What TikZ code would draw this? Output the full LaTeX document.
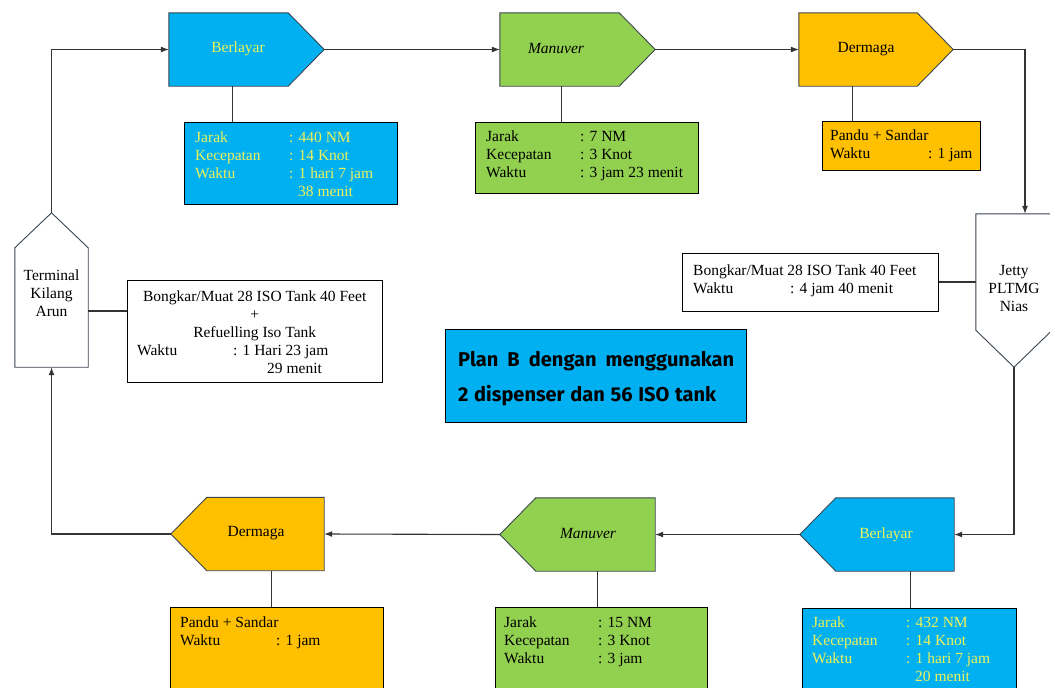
\documentclass[tikz,border=0pt]{standalone}
\usepackage{fontspec}
\usepackage{graphicx}
\setmainfont{Liberation Serif}
\newfontfamily\planfont{Fira Sans}
\usetikzlibrary{arrows.meta,calc}
\definecolor{cblue}{HTML}{00B0F0}
\definecolor{cgreen}{HTML}{92D050}
\definecolor{corange}{HTML}{FFC000}
\definecolor{cyell}{HTML}{EEF25A}
\definecolor{shpline}{HTML}{3A4550}
\definecolor{lnc}{HTML}{333333}
\newcommand\infoline[3]{\makebox[#1][l]{#2}: #3}
\begin{document}
\begin{tikzpicture}[x=1pt,y=-1pt,
  every node/.style={font=\fontsize{15.5}{18}\selectfont},
  shapebox/.style={draw=none, fill=none, inner sep=0pt, minimum height=73pt, minimum width=155pt},
  shp/.style={draw=shpline, line width=0.9pt, line join=miter},
  lbl/.style={inner sep=0pt},
  infobox/.style={draw=black, line width=1pt, inner sep=0pt},
  infotext/.style={anchor=base west, align=left, inner sep=0pt},
  conn/.style={draw=lnc, line width=1.1pt},
  arr/.style={conn, -{Latex[length=8pt,width=6pt]}}]
\clip (0,0) rectangle (1050,688);
\fill[white] (0,0) rectangle (1050,688);

% ---------- top row ----------
\node[shapebox] (t1) at (246.5,49.5) {};
\filldraw[shp, fill=cblue] (t1.north west) -- ([xshift=-36pt]t1.north east) -- (t1.east) -- ([xshift=-36pt]t1.south east) -- (t1.south west) -- cycle;
\node[lbl, text=cyell] (t1l) at (238,49) {Berlayar};

\node[shapebox] (t2) at (577.5,49.5) {};
\filldraw[shp, fill=cgreen] (t2.north west) -- ([xshift=-36pt]t2.north east) -- (t2.east) -- ([xshift=-36pt]t2.south east) -- (t2.south west) -- cycle;
\node[lbl] (t2l) at (556,49) {\itshape Manuver};

\node[shapebox, minimum width=154pt] (t3) at (876,49.5) {};
\filldraw[shp, fill=corange] (t3.north west) -- ([xshift=-36pt]t3.north east) -- (t3.east) -- ([xshift=-36pt]t3.south east) -- (t3.south west) -- cycle;
\node[lbl] (t3l) at (866,49) {Dermaga};

% ---------- bottom row ----------
\node[shapebox, minimum width=154pt] (u1) at (877,534.5) {};
\filldraw[shp, fill=cblue] (u1.north east) -- ([xshift=36pt]u1.north west) -- (u1.west) -- ([xshift=36pt]u1.south west) -- (u1.south east) -- cycle;
\node[lbl, text=cyell] (u1l) at (886,535) {Berlayar};

\node[shapebox] (u2) at (577.5,534.5) {};
\filldraw[shp, fill=cgreen] (u2.north east) -- ([xshift=36pt]u2.north west) -- (u2.west) -- ([xshift=36pt]u2.south west) -- (u2.south east) -- cycle;
\node[lbl] (u2l) at (588,534) {\itshape Manuver};

\node[shapebox, minimum width=153pt] (u3) at (247.5,534) {};
\filldraw[shp, fill=corange] (u3.north east) -- ([xshift=36pt]u3.north west) -- (u3.west) -- ([xshift=36pt]u3.south west) -- (u3.south east) -- cycle;
\node[lbl] (u3l) at (256,533) {Dermaga};

% ---------- Jetty & Terminal ----------
\node[shapebox, minimum width=76pt, minimum height=153pt] (jt) at (1014,290.5) {};
\filldraw[shp, fill=white] (jt.north west) -- (jt.north east) -- ([yshift=37pt]jt.south east) -- (jt.south) -- ([yshift=37pt]jt.south west) -- cycle;
\node[lbl, align=center] (jtl) at (1014,288) {Jetty\\PLTMG\\Nias};

\node[shapebox, minimum width=73pt, minimum height=154pt] (tm) at (51.5,290) {};
\filldraw[shp, fill=white] (tm.south west) -- ([yshift=-35pt]tm.north west) -- (tm.north) -- ([yshift=-35pt]tm.north east) -- (tm.south east) -- cycle;
\node[lbl, align=center] (tml) at (51.5,293) {Terminal\\Kilang\\Arun};

% ---------- info boxes (text anchored at baseline of last line) ----------
\node[infobox, fill=cblue, minimum width=213pt, minimum height=82pt] (i1) at (290.5,163) {};
\node[infotext, text=cyell] (i1t) at (195,196) {\infoline{94pt}{Jarak}{440 NM}\\ \infoline{94pt}{Kecepatan}{14 Knot}\\ \infoline{94pt}{Waktu}{1 hari 7 jam}\\ \hspace*{103pt}38 menit};

\node[infobox, fill=cgreen, minimum width=223pt, minimum height=71pt] (i2) at (586.5,157.5) {};
\node[infotext] (i2t) at (486,177) {\infoline{94pt}{Jarak}{7 NM}\\ \infoline{94pt}{Kecepatan}{3 Knot}\\ \infoline{94pt}{Waktu}{3 jam 23 menit}};

\node[infobox, fill=corange, minimum width=158pt, minimum height=49pt] (i3) at (901,145.5) {};
\node[infotext] (i3t) at (830,158) {Pandu + Sandar\\ \infoline{98pt}{Waktu}{1 jam}};

\node[infobox, fill=white, minimum width=256pt, minimum height=58pt] (j) at (810,282) {};
\node[infotext] (jtt) at (693,293) {Bongkar/Muat 28 ISO Tank 40 Feet\\ \infoline{97pt}{Waktu}{4 jam 40 menit}};

\node[infobox, fill=white, minimum width=255pt, minimum height=102pt] (k) at (254.5,331) {};
\node[infotext] (kt) at (137,373) {\makebox[235pt][c]{Bongkar/Muat 28 ISO Tank 40 Feet}\\ \makebox[235pt][c]{+}\\ \makebox[235pt][c]{Refuelling Iso Tank}\\ \infoline{96pt}{Waktu}{1 Hari 23 jam}\\ \hspace*{130pt}29 menit};

\node[infobox, fill=corange, minimum width=213pt, minimum height=96pt] (v3) at (276.5,655) {};
\node[infotext] (v3t) at (180,645) {Pandu + Sandar\\ \infoline{96pt}{Waktu}{1 jam}};

\node[infobox, fill=cgreen, minimum width=212pt, minimum height=96pt] (v2) at (601,655) {};
\node[infotext] (v2t) at (504,663) {\infoline{94pt}{Jarak}{15 NM}\\ \infoline{94pt}{Kecepatan}{3 Knot}\\ \infoline{94pt}{Waktu}{3 jam}};

\node[infobox, fill=cblue, minimum width=214pt, minimum height=96pt] (v1) at (909,656) {};
\node[infotext, text=cyell] (v1t) at (812,681) {\infoline{94pt}{Jarak}{432 NM}\\ \infoline{94pt}{Kecepatan}{14 Knot}\\ \infoline{94pt}{Waktu}{1 hari 7 jam}\\ \hspace*{103pt}20 menit};

% ---------- center box ----------
\node[infobox, fill=cblue, minimum width=301pt, minimum height=93pt] (c) at (595.5,375.5) {};
\node[infotext, font=\planfont\bfseries\fontsize{20}{35}\selectfont] (ct) at (458,401) {\makebox[276pt][s]{Plan B dengan menggunakan}\\ \makebox[258pt][s]{2 dispenser dan 56 ISO tank}};

% ---------- connectors ----------
\draw[arr] (tm.north) |- (t1.west);
\draw[arr] (t1.east) -- (t2.west);
\draw[arr] (t2.east) -- (t3.west);
\draw[arr] (t3.east) -| ([xshift=11pt]jt.north);
\draw[arr] (jt.south) |- (u1.east);
\draw[arr] (u1.west) -- (u2.east);
\draw[arr] (u2.west) -- (u3.east);
\draw[arr] (u3.west) -| (tm.south);

\draw[conn] ([xshift=64pt]t1.south west) -- ([xshift=64pt]t1.south west |- i1.north);
\draw[conn] ([xshift=62pt]t2.south west) -- ([xshift=62pt]t2.south west |- i2.north);
\draw[conn] ([xshift=54pt]t3.south west) -- ([xshift=54pt]t3.south west |- i3.north);
\draw[conn] ([xshift=101pt]u3.south west) -- ([xshift=101pt]u3.south west |- v3.north);
\draw[conn] ([xshift=98pt]u2.south west) -- ([xshift=98pt]u2.south west |- v2.north);
\draw[conn] ([xshift=111pt]u1.south west) -- ([xshift=111pt]u1.south west |- v1.north);
\draw[conn] ([yshift=-21pt]tm.east) -- ([yshift=-21pt]tm.east -| k.west);
\draw[conn] (j.east) -- (j.east -| jt.west);
\end{tikzpicture}
\end{document}
